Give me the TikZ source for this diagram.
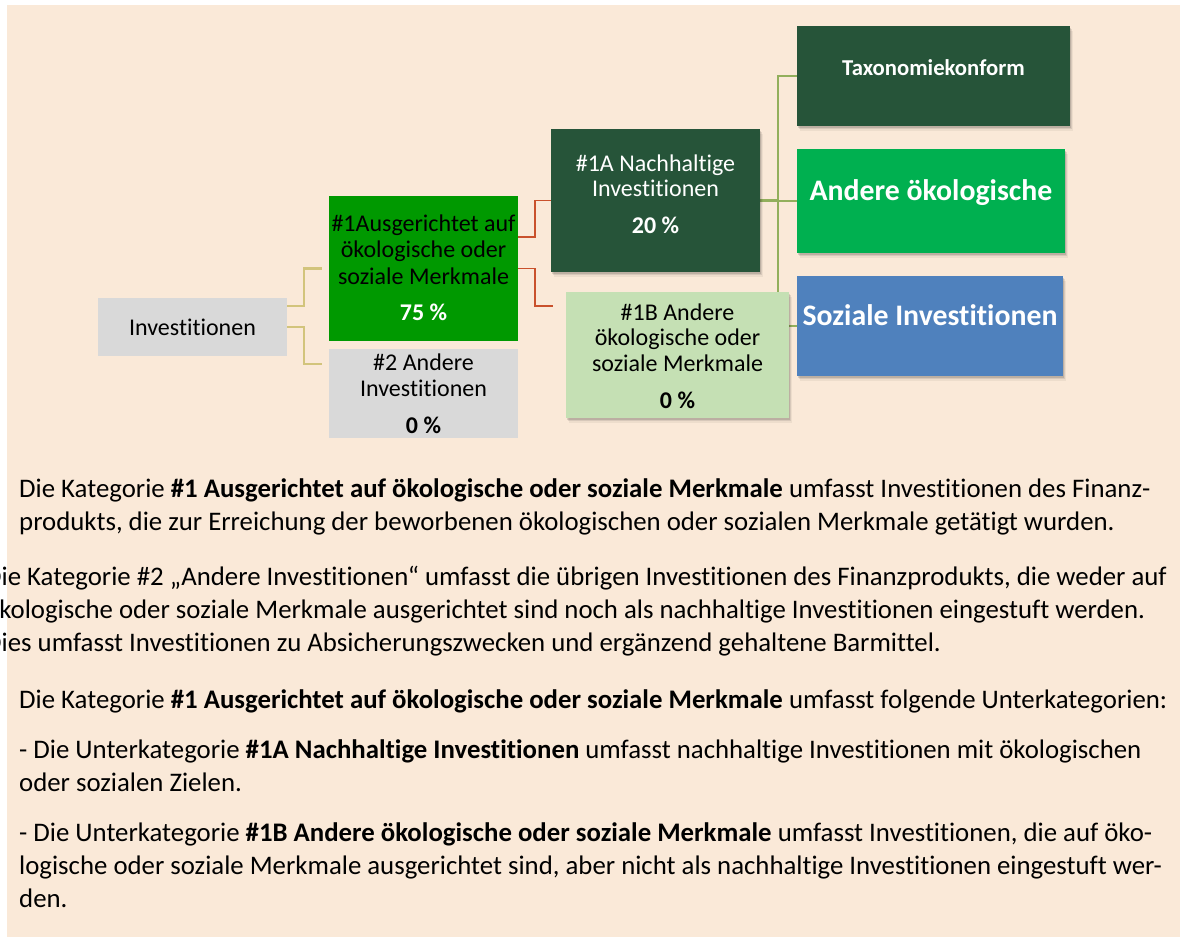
\documentclass[tikz,border=0pt]{standalone}
\usepackage{fontspec}
\setmainfont{Carlito}[Ligatures={CommonOff}]
\usetikzlibrary{shadows,calc}
\pgfdeclarelayer{bg}
\pgfdeclarelayer{wires}
\pgfsetlayers{bg,wires,main}
\definecolor{pagebg}{HTML}{FAE9D8}
\definecolor{greybox}{HTML}{D9D9D9}
\definecolor{midgreen}{HTML}{009900}
\definecolor{darkgreen}{HTML}{265439}
\definecolor{brightgreen}{HTML}{00B050}
\definecolor{paleblue}{HTML}{4F81BD}
\definecolor{palegreen}{HTML}{C5E0B4}
\definecolor{tanline}{HTML}{D2C47C}
\definecolor{redline}{HTML}{C9512C}
\definecolor{oliveline}{HTML}{92AF5C}
\newcommand\boxlines[2][0pt]{\raisebox{#1}[\height][\depth]{\begin{tabular}{@{}c@{}}#2\end{tabular}}}
\newcommand\bxf{\fontsize{24}{26.5}\selectfont}
\newcommand\bxfb{\fontsize{24}{25.5}\selectfont}
\newcommand\bdf{\fontsize{26.8}{33}\selectfont}
\begin{document}
\begin{tikzpicture}[x=1pt,y=-1pt,
  box/.style={rectangle, inner sep=0pt, outer sep=0pt},
  shade/.style={
    general shadow={shadow xshift=1pt, shadow yshift=-1.5pt, fill=black, opacity=0.12},
    general shadow={shadow xshift=2pt, shadow yshift=-3pt, fill=black, opacity=0.09},
    general shadow={shadow xshift=3pt, shadow yshift=-4.5pt, fill=black, opacity=0.05}},
  tanw/.style={draw=tanline, line width=2.2pt},
  redw/.style={draw=redline, line width=1.8pt},
  olivew/.style={draw=oliveline, line width=2pt},
  bodyline/.style={anchor=base west, inner sep=0pt, font=\bdf, text=black}]
\useasboundingbox (0,0) rectangle (1187,937);
\begin{pgfonlayer}{bg}
\fill[white] (0,0) rectangle (1187,937);
\fill[pagebg] (7,5) rectangle (1180,937);
\end{pgfonlayer}

% diagram boxes
\node[box, fill=greybox, minimum width=189pt, minimum height=58pt, font=\bxf] (inv) at (192.5,327) {Investitionen};
\node[box, fill=midgreen, minimum width=189pt, minimum height=145pt, font=\bxf] (a1) at (423.5,268.5)
  {\boxlines[-2pt]{\#1Ausgerichtet auf\\ökologische oder\\soziale Merkmale\\[10pt]\textcolor{white}{\textbf{75 \%}}}};
\node[box, fill=greybox, minimum width=189pt, minimum height=79pt, font=\bxf] (a2) at (423.5,393.5)
  {\boxlines[-3pt]{\#2 Andere\\Investitionen\\[10pt]\textbf{0 \%}}};
\node[box, shade, fill=darkgreen, text=white, minimum width=209pt, minimum height=143pt, font=\bxfb] (n1A) at (655.5,200.5)
  {\boxlines[3pt]{\#1A Nachhaltige\\Investitionen\\[11.5pt]\textbf{20 \%}}};
\node[box, shade, fill=palegreen, minimum width=223pt, minimum height=126pt, font=\bxfb] (n1B) at (677.5,355)
  {\boxlines[-4pt]{\#1B Andere\\ökologische oder\\soziale Merkmale\\[11.5pt]\textbf{0 \%}}};
\node[box, shade, fill=darkgreen, text=white, minimum width=273pt, minimum height=100pt, font=\fontsize{22.7}{27}\selectfont\bfseries] (tax) at (933.5,76)
  {\boxlines[6.4pt]{Taxonomiekonform}};
\node[box, shade, fill=brightgreen, text=white, minimum width=268pt, minimum height=104pt, font=\fontsize{29.8}{36}\selectfont\bfseries] (ando) at (931,201)
  {\boxlines[8pt]{Andere ökologische}};
\node[box, shade, fill=paleblue, text=white, minimum width=266pt, minimum height=100pt, font=\fontsize{29.8}{36}\selectfont\bfseries] (soz) at (930,326)
  {\boxlines[8pt]{Soziale Investitionen}};

% connectors
\begin{pgfonlayer}{wires}
\draw[tanw] ([yshift=21pt]inv.east) -| ([xshift=-25pt]a1.west) -- ([xshift=-7pt]a1.west);
\draw[tanw] (inv.east) -| ([xshift=-25pt,yshift=29.5pt]a2.west) -- ([xshift=-7pt,yshift=29.5pt]a2.west);
\draw[redw] ([yshift=31.5pt]a1.east) -| ([xshift=-16pt]n1A.west) -- (n1A.west);
\draw[redw] (a1.east) -| ([xshift=-31pt,yshift=49pt]n1B.west) -- ([xshift=-13pt,yshift=49pt]n1B.west);
\coordinate (hub) at ([xshift=18pt]n1A.east);
\draw[olivew, line width=3.5pt] (n1A.east) -- (hub);
\draw[olivew] (hub) |- (tax.west);
\draw[olivew] (hub) -- (hub -| ando.west);
\draw[olivew] (hub) |- (soz.west);
\end{pgfonlayer}

% explanatory text
\begin{scope}
\clip (0,0) rectangle (1187,937);
\node[bodyline] (t1) at (19,497) {Die Kategorie \textbf{\#1 Ausgerichtet auf ökologische oder soziale Merkmale} umfasst Investitionen des Finanz-};
\node[bodyline] (t2) at (19,530) {produkts, die zur Erreichung der beworbenen ökologischen oder sozialen Merkmale getätigt wurden.};
\node[bodyline] (t3) at (-15,585) {Die Kategorie \#2 „Andere Investitionen“ umfasst die übrigen Investitionen des Finanzprodukts, die weder auf};
\node[bodyline] (t4) at (-15,618) {ökologische oder soziale Merkmale ausgerichtet sind noch als nachhaltige Investitionen eingestuft werden.};
\node[bodyline] (t5) at (-15,651) {Dies umfasst Investitionen zu Absicherungszwecken und ergänzend gehaltene Barmittel.};
\node[bodyline] (t6) at (19,708) {Die Kategorie \textbf{\#1 Ausgerichtet auf ökologische oder soziale Merkmale} umfasst folgende Unterkategorien:};
\node[bodyline] (t7) at (19,758) {- Die Unterkategorie \textbf{\#1A Nachhaltige Investitionen} umfasst nachhaltige Investitionen mit ökologischen};
\node[bodyline] (t8) at (19,791) {oder sozialen Zielen.};
\node[bodyline] (t9) at (19,841) {- Die Unterkategorie \textbf{\#1B Andere ökologische oder soziale Merkmale} umfasst Investitionen, die auf öko-};
\node[bodyline] (t10) at (19,874) {logische oder soziale Merkmale ausgerichtet sind, aber nicht als nachhaltige Investitionen eingestuft wer-};
\node[bodyline] (t11) at (19,907) {den.};
\end{scope}
\end{tikzpicture}
\end{document}
